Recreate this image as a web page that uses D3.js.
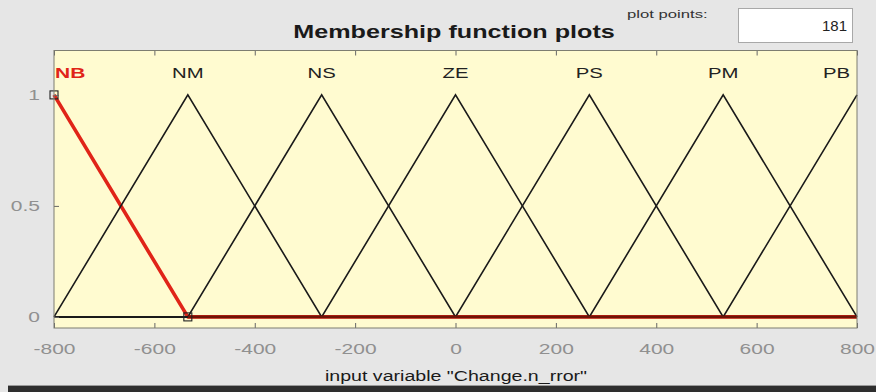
<!DOCTYPE html>
<html>
<head>
<meta charset="utf-8">
<script src="https://cdn.jsdelivr.net/npm/d3@7"></script>
<style>
  html, body { margin: 0; padding: 0; background: #e6e6e6; }
  svg { display: block; font-family: "Liberation Sans", Arial, sans-serif; }
</style>
</head>
<body>
<svg id="chart" width="876" height="392"></svg>
<script>
// Membership functions of the input variable (triangular: [left, peak, right])
const mfNames  = ["NB", "NM", "NS", "ZE", "PS", "PM", "PB"];
const mfLeft   = [-1066.67, -800, -533.33, -266.67, 0, 266.67, 533.33];
const mfPeak   = [-800, -533.33, -266.67, 0, 266.67, 533.33, 800];
const mfRight  = [-533.33, -266.67, 0, 266.67, 533.33, 800, 1066.67];
const selectedMf = 0;                     // highlighted function (NB)
const xRange   = [-800, 800];
const xTicks   = [-800, -600, -400, -200, 0, 200, 400, 600, 800];
const yTicks   = [0, 0.5, 1];
const plotPoints = 181;
const titleText = "Membership function plots";
const xLabel   = 'input variable "Change.n_rror"';

const svg = d3.select("#chart");
const W = 876, H = 392;
const SX = 1.4;                           // horizontal text stretch

const x = d3.scaleLinear().domain(xRange).range([54, 857]);
const y = d3.scaleLinear().domain([-0.05, 1.2]).range([328, 50.5]);

// window background
svg.append("rect").attr("width", W).attr("height", H).attr("fill", "#e6e6e6");

// stretched text helper
function stretchedText(g, tx, ty, str, opts) {
  return g.append("g").attr("transform", `translate(${tx},${ty}) scale(${opts.sx || SX},1)`)
    .append("text")
    .attr("text-anchor", opts.anchor || "middle")
    .attr("font-size", opts.size)
    .attr("font-weight", opts.weight || "normal")
    .attr("fill", opts.fill || "#000")
    .text(str);
}

// title
stretchedText(svg, 454, 38, titleText, { size: 18, weight: "bold", fill: "#1a1a1a" });

// plot-points box
stretchedText(svg, 627, 18, "plot points:", { size: 11.5, anchor: "start", fill: "#333", sx: 1.45 });
svg.append("rect").attr("x", 738.5).attr("y", 8.5).attr("width", 114).attr("height", 34)
  .attr("fill", "#fff").attr("stroke", "#a8a8a8");
stretchedText(svg, 847, 31, String(plotPoints), { size: 15, anchor: "end", fill: "#222", sx: 1.0 });

// plot area
const [x0, x1] = x.range();
const [yb, yt] = y.range();
svg.append("rect").attr("x", x0).attr("y", yt).attr("width", x1 - x0).attr("height", yb - yt)
  .attr("fill", "#fffbd0");

// vertex list of each function, clipped to the variable range
function clipSegment(p, q) {
  const [a, b] = xRange;
  let [px, py] = p, [qx, qy] = q;
  if (qx <= a || px >= b) return null;
  const at = (t) => py + (qy - py) * (t - px) / (qx - px);
  if (px < a) { py = at(a); px = a; }
  if (qx > b) { qy = at(b); qx = b; }
  return [[px, py], [qx, qy]];
}
const mfVerts = mfNames.map((name, i) => {
  const raw = [];
  if (mfLeft[i] > xRange[0]) raw.push([xRange[0], 0]);
  raw.push([mfLeft[i], 0], [mfPeak[i], 1], [mfRight[i], 0]);
  if (mfRight[i] < xRange[1]) raw.push([xRange[1], 0]);
  const pts = [];
  for (let k = 0; k < raw.length - 1; k++) {
    const s = clipSegment(raw[k], raw[k + 1]);
    if (!s) continue;
    if (!pts.length) pts.push(s[0]);
    pts.push(s[1]);
  }
  return pts;
});

const line = d3.line().x(d => x(d[0])).y(d => y(d[1]));

// highlighted function first, thin curves on top
svg.append("path").attr("d", line(mfVerts[selectedMf]))
  .attr("fill", "none").attr("stroke", "#e02418").attr("stroke-width", 3.6)
  .attr("stroke-linejoin", "round");
mfVerts.forEach((pts, i) => {
  if (i === selectedMf) return;
  svg.append("path").attr("d", line(pts))
    .attr("fill", "none").attr("stroke", "#1a1a1a").attr("stroke-width", 1.6);
});
// darker overlap on the shared baseline of the selected function
svg.append("path")
  .attr("d", line(mfVerts[selectedMf].filter(d => d[0] >= mfRight[selectedMf] - 1e-6)))
  .attr("fill", "none").attr("stroke", "#6e1406").attr("stroke-width", 2.6);

// vertex markers of the selected function
const markerPts = [[mfPeak[selectedMf], 1], [mfRight[selectedMf], 0]];
svg.selectAll("rect.marker").data(markerPts).join("rect").attr("class", "marker")
  .attr("x", d => x(d[0]) - 4).attr("y", d => y(d[1]) - 4)
  .attr("width", 8).attr("height", 8)
  .attr("fill", "none").attr("stroke", "#222").attr("stroke-width", 1.1);

// function labels
mfNames.forEach((name, i) => {
  const px = x(mfPeak[i]);
  let anchor = "middle", lx = px;
  if (mfPeak[i] <= xRange[0]) { anchor = "start"; lx = x0 + 1; }
  if (mfPeak[i] >= xRange[1]) { anchor = "end"; lx = x1 - 7; }
  stretchedText(svg, lx, y(1.1) + 5, name, {
    size: i === selectedMf ? 15 : 14.5,
    weight: i === selectedMf ? "bold" : "normal",
    anchor,
    fill: i === selectedMf ? "#e02418" : "#222"
  });
});

// axes
const fmt = d => String(d);
const gx = svg.append("g").attr("transform", `translate(0,${yb})`)
  .call(d3.axisBottom(x).tickValues(xTicks).tickSizeInner(-5).tickSizeOuter(0).tickPadding(15)
    .tickFormat(fmt));
gx.select(".domain").remove();
gx.selectAll(".tick line").attr("stroke", "#666");
gx.selectAll(".tick text").attr("transform", `scale(${SX},1)`)
  .attr("font-size", 15).attr("fill", "#909090").attr("font-family", "Liberation Sans, Arial, sans-serif");

const gxt = svg.append("g").attr("transform", `translate(0,${yt})`)
  .call(d3.axisTop(x).tickValues(xTicks).tickSizeInner(-5).tickSizeOuter(0).tickFormat(""));
gxt.select(".domain").remove();
gxt.selectAll(".tick line").attr("stroke", "#666");

const gy = svg.append("g").attr("transform", `translate(${x0},0)`)
  .call(d3.axisLeft(y).tickValues(yTicks).tickSizeInner(-5).tickSizeOuter(0).tickPadding(10)
    .tickFormat(fmt));
gy.select(".domain").remove();
gy.selectAll(".tick line").attr("stroke", "#666");
gy.selectAll(".tick text").attr("transform", `scale(${SX},1)`)
  .attr("font-size", 15).attr("fill", "#909090").attr("font-family", "Liberation Sans, Arial, sans-serif");

// axes frame
svg.append("rect").attr("x", x0).attr("y", yt).attr("width", x1 - x0).attr("height", yb - yt)
  .attr("fill", "none").attr("stroke", "#7d7d70").attr("stroke-width", 1);

// x-axis label
stretchedText(svg, 456, 381, xLabel, { size: 14, fill: "#1a1a1a" });

// bottom separator of the panel
svg.append("rect").attr("x", 8).attr("y", 385).attr("width", W - 8).attr("height", 1).attr("fill", "#9a9a9a");
svg.append("rect").attr("x", 8).attr("y", 386).attr("width", W - 8).attr("height", 6).attr("fill", "#2e2e2e");
</script>
</body>
</html>
